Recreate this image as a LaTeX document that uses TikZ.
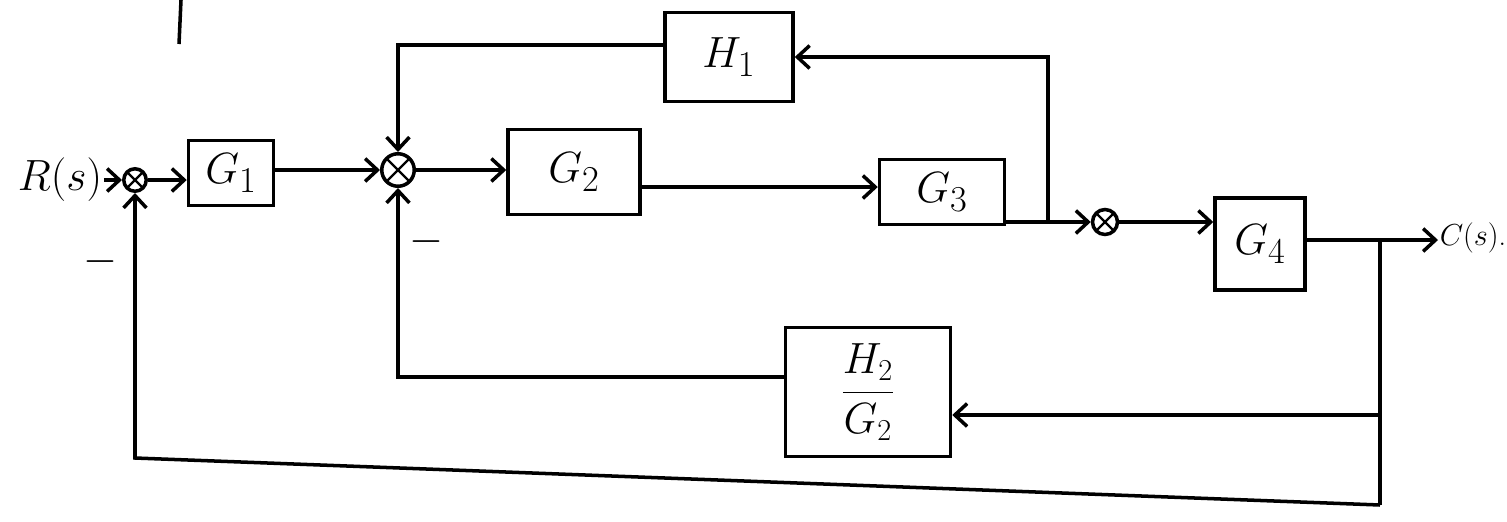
\documentclass[tikz,border=0pt]{standalone}
\usetikzlibrary{arrows.meta}
\begin{document}
\begin{tikzpicture}[x=0.02cm,y=-0.02cm, line width=2pt,
  >={Straight Barb[length=7pt,width=13pt]},
  blk/.style={draw, rectangle, inner sep=2pt, font=\fontsize{30}{34}\selectfont},
  sumj/.style={draw, circle, inner sep=0pt, minimum size=#1,
    path picture={\draw[line width=1.3pt] (path picture bounding box.north west) -- (path picture bounding box.south east)
      (path picture bounding box.north east) -- (path picture bounding box.south west);}},
  sumj/.default=0.5cm,
  lbl/.style={inner sep=0pt, font=\fontsize{26}{30}\selectfont},
  sgn/.style={inner sep=0pt, font=\fontsize{24}{28}\selectfont}]
\useasboundingbox (0,0) rectangle (1507,521);

% nodes
\node[lbl] (R) at (60,180) {$R(s)$};
\node[sumj=0.45cm] (s1) at (135,180) {};
\node[blk, minimum width=1.7cm, minimum height=1.3cm] (G1) at (231,173) {$G_1$};
\node[sumj=0.65cm] (s2) at (398,170) {};
\node[blk, minimum width=2.64cm, minimum height=1.7cm] (G2) at (574,172) {$G_2$};
\node[blk, minimum width=2.5cm, minimum height=1.3cm] (G3) at (942,192) {$G_3$};
\node[sumj=0.5cm] (s3) at (1105,222) {};
\node[blk, minimum width=1.8cm, minimum height=1.84cm] (G4) at (1260,244) {$G_4$};
\node[blk, minimum width=2.56cm, minimum height=1.78cm] (H1) at (729,57) {$H_1$};
\node[blk, minimum width=3.3cm, minimum height=2.58cm, font=\fontsize{24}{28}\selectfont] (H2) at (868,392) {$\displaystyle\frac{H_2}{G_2}$};
\node[inner sep=0pt, anchor=west, font=\fontsize{17}{20}\selectfont] (C) at (1438,238) {$C(s)$.};

% branch / corner coordinates
\coordinate (b1) at (1048,222);
\coordinate (b2) at (1380,240);
\coordinate (b3) at (1380,415);
\coordinate (b4) at (1380,505);
\coordinate (c1) at (135,458);

% forward path
\draw[->] (R.east) -- (s1.west);
\draw[->] (s1.east) -- (G1.west |- s1);
\draw[->] (G1.east |- s2) -- (s2.west);
\draw[->] (s2.east) -- (G2.west |- s2);
\draw[->] (G2.east |- 0,187) -- (G3.west |- 0,187);
\draw (G3.east |- b1) -- (b1);
\draw[->] (b1) -- (s3.west);
\draw[->] (s3.east) -- (G4.west |- s3);
\draw[->] (G4.east |- b2) -- (C.west |- b2);

% feedback paths
\draw[->] (b1) |- (H1.east);
\draw[->] (H1.west |- 0,45) -| (s2.north);
\draw (b2) -- (b4);
\draw[->] (b3) -- (H2.east |- b3);
\draw[->] (H2.west |- 0,377) -| (s2.south);
\draw[->] (b4) -- (c1) -- (s1.south);

% signs
\node[sgn] (m1) at (100,262) {$-$};
\node[sgn] (m2) at (426,242) {$-$};

% stray stroke at top left
\draw (181,0) -- (179,44);
\end{tikzpicture}
\end{document}
